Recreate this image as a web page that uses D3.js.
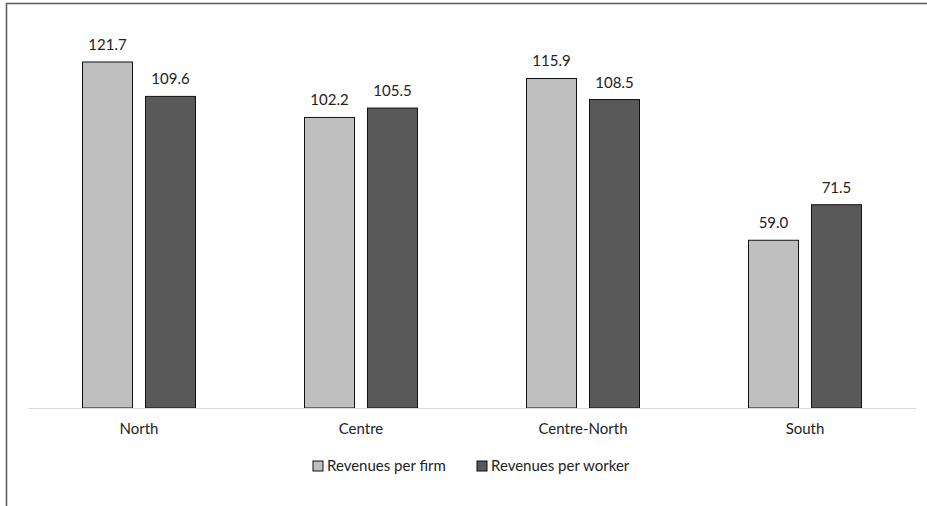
<!DOCTYPE html>
<html>
<head>
<meta charset="utf-8">
<script src="https://cdn.jsdelivr.net/npm/d3@7"></script>
<style>
  body { margin: 0; background: #fff; }
  text { font-family: Lato, "Open Sans", sans-serif; fill: #222; }
</style>
</head>
<body>
<div id="chart"></div>
<script>
// Data
const regions = ["North", "Centre", "Centre-North", "South"];
const seriesNames = ["Revenues per firm", "Revenues per worker"];
const perFirm = [121.7, 102.2, 115.9, 59.0];
const perWorker = [109.6, 105.5, 108.5, 71.5];

const width = 927;
const height = 506;
const colors = ["#bfbfbf", "#595959"];
const fontSize = 15;

const svg = d3.select("#chart").append("svg")
  .attr("width", width)
  .attr("height", height);

// Outer frame (cut at right and bottom)
svg.append("path")
  .attr("d", "M6.5,506 V3.5 H927")
  .attr("fill", "none")
  .attr("stroke", "#595959")
  .attr("stroke-width", 1.5);

const plotLeft = 28, plotRight = 916, baseY = 408;

const x = d3.scaleBand()
  .domain(regions)
  .range([plotLeft, plotRight]);

const xInner = d3.scaleBand()
  .domain(seriesNames)
  .range([0, 113])
  .paddingInner(0.206);

const y = d3.scaleLinear()
  .domain([0, 121.7])
  .range([baseY, 62]);

const rows = regions.map((r, i) => ({ region: r, values: [perFirm[i], perWorker[i]] }));

const group = svg.selectAll("g.region")
  .data(rows)
  .enter().append("g")
  .attr("class", "region")
  .attr("transform", d => `translate(${x(d.region) + x.bandwidth() / 2 - 56.5},0)`);

const bar = group.selectAll("g.bar")
  .data(d => d.values.map((v, j) => ({ name: seriesNames[j], value: v, j: j })))
  .enter().append("g")
  .attr("class", "bar");

bar.append("rect")
  .attr("x", d => xInner(d.name))
  .attr("y", d => y(d.value))
  .attr("width", xInner.bandwidth())
  .attr("height", d => baseY - y(d.value))
  .attr("fill", d => colors[d.j])
  .attr("stroke", "#111")
  .attr("stroke-width", 1);

bar.append("text")
  .attr("x", d => xInner(d.name) + xInner.bandwidth() / 2)
  .attr("y", d => y(d.value) - 12)
  .attr("text-anchor", "middle")
  .attr("font-size", fontSize)
  .text(d => d.value.toFixed(1));

// Baseline axis
const xAxis = svg.append("g")
  .attr("transform", `translate(0,${baseY})`)
  .call(d3.axisBottom(x).tickSize(0).tickPadding(15));
xAxis.select(".domain").attr("stroke", "#d9d9d9").attr("stroke-width", 1);
xAxis.selectAll("text")
  .attr("font-size", fontSize)
  .attr("font-family", "Lato, 'Open Sans', sans-serif")
  .attr("fill", "#222");

// Legend
const legendX = [313, 477];
const legend = svg.selectAll("g.legend")
  .data(seriesNames)
  .enter().append("g")
  .attr("class", "legend")
  .attr("transform", (d, i) => `translate(${legendX[i]},461)`);

legend.append("rect")
  .attr("width", 10)
  .attr("height", 10)
  .attr("fill", (d, i) => colors[i])
  .attr("stroke", "#111")
  .attr("stroke-width", 1);

legend.append("text")
  .attr("x", 14)
  .attr("y", 5)
  .attr("dy", "0.35em")
  .attr("font-size", fontSize)
  .text(d => d);
</script>
</body>
</html>
